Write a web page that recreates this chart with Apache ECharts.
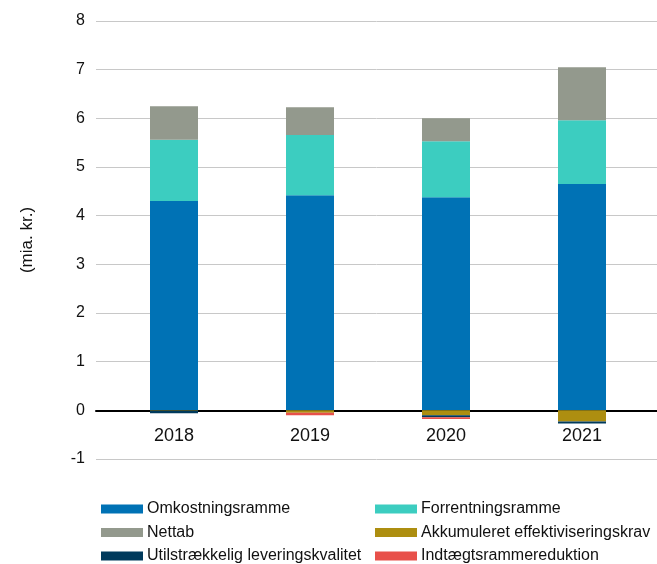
<!DOCTYPE html>
<html>
<head>
<meta charset="utf-8">
<script src="https://cdn.jsdelivr.net/npm/echarts@6/dist/echarts.min.js"></script>
<style>
  html, body { margin: 0; padding: 0; background: #fff; }
  #chart { width: 657px; height: 564px; }
</style>
</head>
<body>
<div id="chart"></div>
<script>
// data (mia. kr.)
const years = ['2018', '2019', '2020', '2021'];
const omkostningsramme = [4.30, 4.42, 4.38, 4.65];
const forrentningsramme = [1.26, 1.24, 1.15, 1.31];
const nettab = [0.69, 0.57, 0.47, 1.09];
const akkumuleret = [-0.01, -0.05, -0.10, -0.23];
const utilstraekkelig = [-0.05, 0, -0.04, -0.04];
const indtaegtsreduktion = [0, -0.05, -0.04, 0];
const yTicks = { min: -1, max: 8, interval: 1 };

const font = "'Liberation Sans', Arial, sans-serif";

let chart = echarts.init(document.getElementById('chart'));

function bar(name, data, color) {
  return {
    name: name,
    type: 'bar',
    stack: 'total',
    xAxisIndex: 1,
    yAxisIndex: 1,
    barWidth: 48,
    itemStyle: { color: color },
    data: data
  };
}

function legendCol(left, names) {
  return {
    orient: 'vertical', left: left, top: 501, height: 63,
    padding: 0,
    itemWidth: 42, itemHeight: 9, itemGap: 7.5,
    icon: 'rect',
    textStyle: { fontFamily: font, fontSize: 16, lineHeight: 16, color: '#111', padding: [0, 0, 0, -1] },
    data: names
  };
}

let option = {
  animation: false,
  textStyle: { fontFamily: font },
  grid: [
    { left: 96, right: 0, top: 21, bottom: 105 },
    { left: 106, width: 544, top: 21, bottom: 105 }
  ],
  legend: [
    legendCol(101, ['Omkostningsramme', 'Nettab', 'Utilstrækkelig leveringskvalitet']),
    legendCol(375, ['Forrentningsramme', 'Akkumuleret effektiviseringskrav', 'Indtægtsrammereduktion'])
  ],
  xAxis: [
    {
      type: 'category', gridIndex: 0, data: years,
      axisLine: { onZero: true, lineStyle: { color: '#000', width: 2 } },
      axisTick: { show: false },
      axisLabel: { show: false }
    },
    {
      // labels sit just under the zero line (one unit above the grid bottom)
      type: 'category', gridIndex: 1, data: years,
      position: 'bottom', offset: -49,
      axisLine: { show: false, onZero: false },
      axisTick: { show: false },
      axisLabel: { fontSize: 18, color: '#111', margin: 17 }
    }
  ],
  yAxis: [
    {
      type: 'value', gridIndex: 0,
      min: yTicks.min, max: yTicks.max, interval: yTicks.interval,
      name: '(mia. kr.)', nameLocation: 'middle', nameGap: 60,
      nameTextStyle: { fontSize: 17, color: '#111' },
      axisLine: { show: false },
      axisTick: { show: false },
      axisLabel: { fontSize: 16, color: '#111', margin: 11 },
      splitLine: { lineStyle: { color: '#c8c8c8', width: 1 } }
    },
    {
      type: 'value', gridIndex: 1,
      min: yTicks.min, max: yTicks.max, interval: yTicks.interval,
      axisLine: { show: false },
      axisTick: { show: false },
      axisLabel: { show: false },
      splitLine: { show: false }
    }
  ],
  series: [
    bar('Omkostningsramme', omkostningsramme, '#0072b5'),
    bar('Forrentningsramme', forrentningsramme, '#3ccdc0'),
    bar('Nettab', nettab, '#93998d'),
    bar('Akkumuleret effektiviseringskrav', akkumuleret, '#ad8e10'),
    bar('Utilstrækkelig leveringskvalitet', utilstraekkelig, '#003a5c'),
    bar('Indtægtsrammereduktion', indtaegtsreduktion, '#e8504a')
  ]
};

chart.setOption(option);
</script>
</body>
</html>
